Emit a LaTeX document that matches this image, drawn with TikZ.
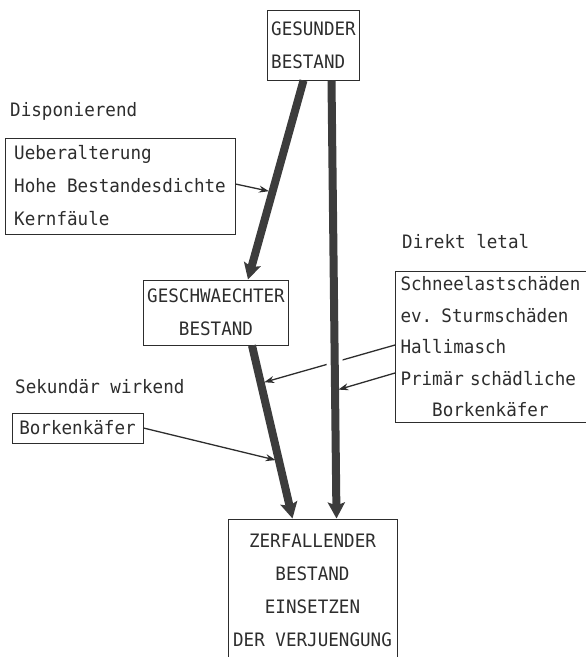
\documentclass[tikz,border=0pt]{standalone}
\usepackage{fontspec}
\newfontfamily\mono[FakeStretch=0.95]{DejaVu Sans Mono}
\usetikzlibrary{arrows.meta,positioning}
\definecolor{ink}{RGB}{45,45,45}
\definecolor{balken}{RGB}{60,60,60}
\tikzstyle{kasten} = [draw=ink, line width=1pt, inner sep=4pt, text=ink,
font=\mono\fontsize{18.5}{33}\selectfont]
\tikzstyle{titel} = [inner sep=0pt, text=ink, anchor=base west,
font=\mono\fontsize{18.5}{33}\selectfont]
\tikzstyle{pfeil} = [-{Stealth[length=16pt,width=17pt,inset=3pt]}, line width=8pt, draw=balken]
\tikzstyle{hinweis} = [-{Stealth[length=10pt,width=7pt]}, line width=1.3pt, draw=ink, shorten >=3.5pt]

\begin{document}
\begin{tikzpicture}[x=1pt, y=-1pt]
    \useasboundingbox (0,0) rectangle (586,657);

    % Bestaende
    \node[kasten, align=left, minimum width=91pt, minimum height=70pt]   (gesund)  at (313.5,45)   {GESUNDER\\BESTAND};
    \node[kasten, align=center, minimum width=142pt, minimum height=65pt] (geschw) at (216,312.5)  {GESCHWAECHTER\\BESTAND};
    \node[kasten, align=center, minimum width=169pt, minimum height=143pt] (zerfall) at (312.5,590.5) {ZERFALLENDER\\BESTAND\\EINSETZEN\\DER VERJUENGUNG};

    % Ursachen
    \node[kasten, align=left, minimum width=230pt, minimum height=96pt] (dispbox) at (120,186)
        {Ueberalterung\\Hohe Bestandesdichte\\Kernfäule};
    \node[kasten, align=left, text width=190pt, minimum height=151pt, inner sep=5pt, anchor=west,
          font=\mono\fontsize{18.5}{31.5}\selectfont] (letal) at (395,347)
        {Schneelastschäden\\ev. Sturmschäden\\Hallimasch\\Primär schädliche\\\phantom{Pri}Borkenkäfer};
    \node[kasten, minimum width=131pt, minimum height=30pt] (bork) at (77.5,428) {Borkenkäfer};

    \node[titel] (disp)   at (10,116)  {Disponierend};
    \node[titel] (direkt) at (402,248) {Direkt letal};
    \node[titel] (sek)    at (15,393)  {Sekundär wirkend};

    % Hauptpfeile
    \draw[pfeil] ([xshift=-10pt]gesund.south) -- coordinate[pos=0.56] (p1) ([xshift=32pt]geschw.north);
    \draw[pfeil] ([xshift=36pt]geschw.south) -- coordinate[pos=0.218] (p2) coordinate[pos=0.667] (p3) ([xshift=-20pt]zerfall.north);

    \draw[hinweis] ([yshift=2pt]letal.west) -- (p2);

    \draw[pfeil, preaction={draw=white, line width=16pt, -, shorten <=4pt, shorten >=20pt}]
        ([xshift=18pt]gesund.south) -- coordinate[pos=0.708] (p4) ([xshift=24pt]zerfall.north);

    % Hinweispfeile
    \draw[hinweis] ([yshift=2pt]dispbox.east) -- (p1);
    \draw[hinweis] ([yshift=-26pt]letal.west) -- (p4);
    \draw[hinweis] (bork.east) -- (p3);
\end{tikzpicture}
\end{document}
